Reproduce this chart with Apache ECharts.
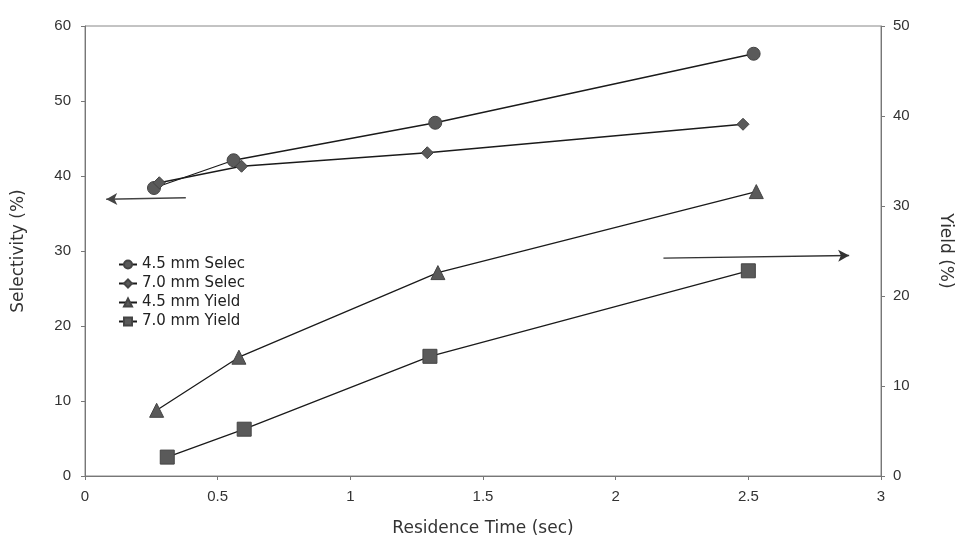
<!DOCTYPE html>
<html>
<head>
<meta charset="utf-8">
<script src="https://cdn.jsdelivr.net/npm/echarts@6/dist/echarts.min.js"></script>
<style>
html,body{margin:0;padding:0;background:#fff;}
#chart{width:956px;height:543px;}
</style>
</head>
<body>
<div id="chart"></div>
<script>
// Data
var seriesNames = ['4.5 mm Selec', '7.0 mm Selec', '4.5 mm Yield', '7.0 mm Yield'];
var time45Selec = [0.26, 0.56, 1.32, 2.52];
var selec45 = [38.4, 42.1, 47.1, 56.3];
var time70Selec = [0.28, 0.59, 1.29, 2.48];
var selec70 = [39.1, 41.3, 43.1, 46.9];
var time45Yield = [0.27, 0.58, 1.33, 2.53];
var yield45 = [7.3, 13.2, 22.6, 31.6];
var time70Yield = [0.31, 0.60, 1.30, 2.50];
var yield70 = [2.1, 5.2, 13.3, 22.8];
// Annotation arrows (axis indicator arrows)
var leftArrowX = [0.38, 0.08];
var leftArrowY = [37.1, 36.9];
var rightArrowX = [2.18, 2.88];
var rightArrowY = [24.2, 24.5];

function pairs(xs, ys) { return xs.map(function (x, i) { return [x, ys[i]]; }); }

var chart = echarts.init(document.getElementById('chart'));
var lineStyle = { color: '#1a1a1a', width: 1.3 };
var markColor = '#5a5a5a';
var font = '"Liberation Sans", Arial, sans-serif';
var wideFont = '"DejaVu Sans", Arial, sans-serif';

var option = {
  animation: false,
  backgroundColor: '#ffffff',
  grid: {
    left: 85, right: 75, top: 26, bottom: 67, outerBoundsMode: 'none', containLabel: false,
    show: true, borderColor: '#888', borderWidth: 1, backgroundColor: 'transparent'
  },
  legend: {
    orient: 'vertical', left: 113, top: 252, itemGap: 4, itemWidth: 18, itemHeight: 10,
    data: seriesNames,
    textStyle: { fontFamily: wideFont, fontSize: 15, color: '#222' }
  },
  xAxis: {
    type: 'value', min: 0, max: 3, interval: 0.5,
    name: 'Residence Time (sec)', nameLocation: 'middle', nameGap: 44,
    nameTextStyle: { fontFamily: wideFont, fontSize: 17, color: '#333' },
    axisLine: { show: true, lineStyle: { color: '#777' } },
    axisTick: { show: true, length: 4, lineStyle: { color: '#777' } },
    axisLabel: { fontFamily: font, fontSize: 15, color: '#333', margin: 13 },
    splitLine: { show: false }
  },
  yAxis: [
    {
      type: 'value', min: 0, max: 60, interval: 10, position: 'left',
      name: 'Selectivity (%)', nameLocation: 'middle', nameGap: 58, nameRotate: 90,
      nameTextStyle: { fontFamily: wideFont, fontSize: 17, color: '#333' },
      axisLine: { show: true, lineStyle: { color: '#777' } },
      axisTick: { show: true, length: 4, lineStyle: { color: '#777' } },
      axisLabel: { fontFamily: font, fontSize: 15, color: '#333', margin: 14 },
      splitLine: { show: false }
    },
    {
      type: 'value', min: 0, max: 50, interval: 10, position: 'right',
      name: 'Yield (%)', nameLocation: 'middle', nameGap: 56, nameRotate: -90,
      nameTextStyle: { fontFamily: wideFont, fontSize: 17, color: '#333' },
      axisLine: { show: true, lineStyle: { color: '#777' } },
      axisTick: { show: true, length: 4, lineStyle: { color: '#777' } },
      axisLabel: { fontFamily: font, fontSize: 15, color: '#333', margin: 12 },
      splitLine: { show: false }
    }
  ],
  series: [
    {
      name: seriesNames[0], type: 'line', yAxisIndex: 0, data: pairs(time45Selec, selec45),
      symbol: 'circle', symbolSize: 13, lineStyle: lineStyle,
      itemStyle: { color: markColor, borderColor: '#444', borderWidth: 1 },
      markLine: {
        silent: true, symbol: ['none', 'arrow'], symbolSize: [9, 11],
        lineStyle: { color: '#444', width: 1.3, type: 'solid' }, label: { show: false },
        data: [[{ coord: [leftArrowX[0], leftArrowY[0]] }, { coord: [leftArrowX[1], leftArrowY[1]] }]]
      }
    },
    {
      name: seriesNames[1], type: 'line', yAxisIndex: 0, data: pairs(time70Selec, selec70),
      symbol: 'diamond', symbolSize: 12, lineStyle: lineStyle,
      itemStyle: { color: markColor, borderColor: '#444', borderWidth: 1 }
    },
    {
      name: seriesNames[2], type: 'line', yAxisIndex: 1, data: pairs(time45Yield, yield45),
      symbol: 'triangle', symbolSize: 14, lineStyle: lineStyle,
      itemStyle: { color: markColor, borderColor: '#444', borderWidth: 1 },
      markLine: {
        silent: true, symbol: ['none', 'arrow'], symbolSize: [9, 11],
        lineStyle: { color: '#333', width: 1.3, type: 'solid' }, label: { show: false },
        data: [[{ coord: [rightArrowX[0], rightArrowY[0]] }, { coord: [rightArrowX[1], rightArrowY[1]] }]]
      }
    },
    {
      name: seriesNames[3], type: 'line', yAxisIndex: 1, data: pairs(time70Yield, yield70),
      symbol: 'rect', symbolSize: 14, lineStyle: lineStyle,
      itemStyle: { color: markColor, borderColor: '#444', borderWidth: 1 }
    }
  ]
};
chart.setOption(option);
</script>
</body>
</html>
